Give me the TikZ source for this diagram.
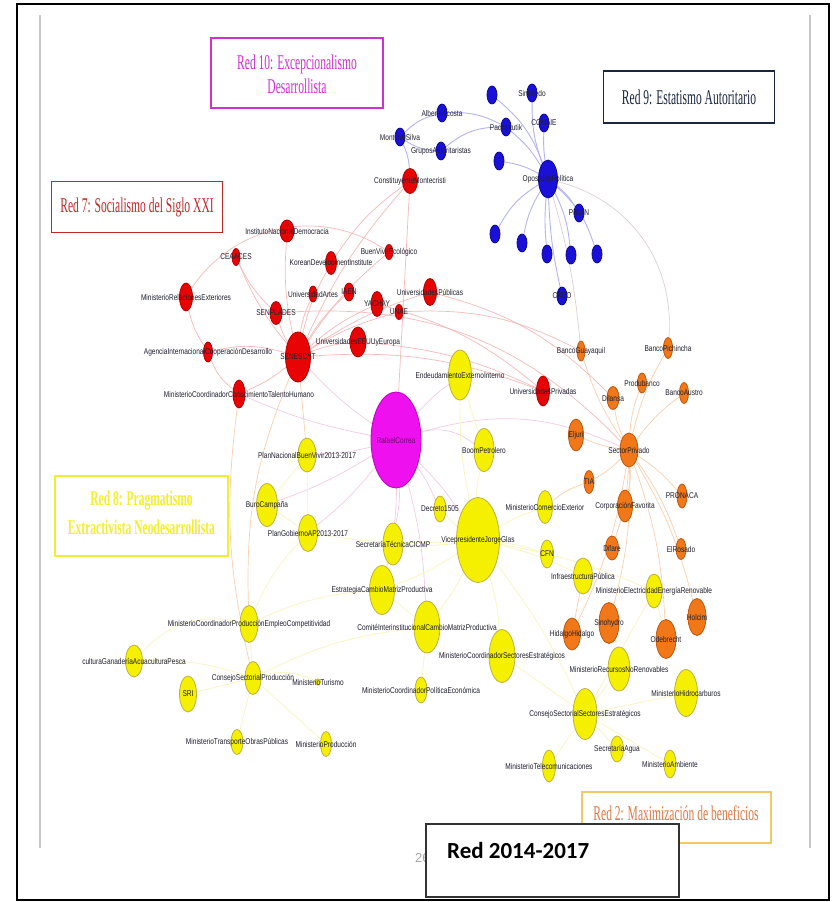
\documentclass[tikz,border=0pt]{standalone}
\usepackage{fontspec}
\setmainfont{Liberation Sans}
\newfontfamily\labfont[FakeStretch=0.78]{Liberation Sans}
\newfontfamily\titfont[FakeStretch=0.55]{Liberation Serif}
\newfontfamily\boxfont{Carlito}
\usetikzlibrary{shapes.geometric}
\pgfdeclarelayer{bg}\pgfdeclarelayer{fg}\pgfsetlayers{bg,main,fg}
\definecolor{cblue}{HTML}{1A10D8}\definecolor{cblueb}{HTML}{0A0890}
\definecolor{cred}{HTML}{E80404}\definecolor{credb}{HTML}{B00000}
\definecolor{cmag}{HTML}{EE10EE}\definecolor{cmagb}{HTML}{C000C0}
\definecolor{cyel}{HTML}{F5F000}\definecolor{cyelb}{HTML}{BDB040}
\definecolor{cora}{HTML}{F07818}\definecolor{corab}{HTML}{C05810}
\definecolor{eblue}{HTML}{B4B4F0}\definecolor{ered}{HTML}{F6BABA}
\definecolor{emag}{HTML}{F3CCE4}\definecolor{eora}{HTML}{F8D0AE}
\definecolor{eyel}{HTML}{F9F6C4}\definecolor{egry}{HTML}{DDD0D4}
\definecolor{labc}{HTML}{202030}
\definecolor{t10}{HTML}{D030D0}\definecolor{t9}{HTML}{1A2540}
\definecolor{t7}{HTML}{C02828}\definecolor{t8}{HTML}{F2EE30}
\definecolor{t2}{HTML}{E07840}\definecolor{t2b}{HTML}{F3C868}
\newcommand{\nd}[7]{%
  \node[#6, minimum width=#4pt, minimum height=#5pt] (#1) at (#2,#3) {};
  \begin{pgfonlayer}{fg}\node[lab] (#1-l) at (#2,#3) {#7};\end{pgfonlayer}}
\tikzset{
  gnode/.style={ellipse, draw, line width=0.8pt, inner sep=0pt},
  nb/.style={gnode, fill=cblue, draw=cblueb},
  nr/.style={gnode, fill=cred, draw=credb},
  nm/.style={gnode, fill=cmag, draw=cmagb},
  ny/.style={gnode, fill=cyel, draw=cyelb},
  no/.style={gnode, fill=cora, draw=corab},
  lab/.style={font=\labfont\fontsize{8.4}{9}\selectfont, text=labc, inner sep=0pt},
  eb/.style={draw=eblue, line width=0.9pt},
  er/.style={draw=ered, line width=0.7pt},
  em/.style={draw=emag, line width=0.7pt},
  eo/.style={draw=eora, line width=0.7pt},
  ey/.style={draw=eyel, line width=0.8pt},
  eg/.style={draw=egry, line width=0.7pt},
  titbox/.style={draw, line width=1.2pt, fill=white, inner sep=0pt},
  tit/.style={font=\titfont\fontsize{21}{24}\selectfont, align=center, inner sep=0pt},
}
\begin{document}
\begin{tikzpicture}[x=1pt,y=-1pt]
\useasboundingbox (0,0) rectangle (838,902);
\begin{pgfonlayer}{bg}
\fill[white] (0,0) rectangle (838,902);
% page edges
\draw[black!22, line width=1.2pt] (40,15) -- (40,848);
\draw[black!22, line width=1.2pt] (810,15) -- (810,848);
\end{pgfonlayer}

% ---------------- blue ----------------
\nd{op}{548}{179}{19}{38}{nb}{OposiciónPolítica}
\nd{aa}{442}{113}{10}{18}{nb}{AlbertoAcosta}
\nd{ms}{400}{137}{10}{18}{nb}{MontúfarSilva}
\nd{ga}{441}{151}{10}{18}{nb}{GruposAutoritaristas}
\nd{b1}{492}{95}{10}{18}{nb}{}
\nd{sin}{532}{93}{10}{18}{nb}{SinMiedo}
\nd{co}{544}{123}{10}{18}{nb}{CONAIE}
\nd{pa}{506}{127}{10}{18}{nb}{Pachakutik}
\nd{b2}{499}{161}{10}{18}{nb}{}
\nd{pr}{579}{213}{10}{18}{nb}{PRIAN}
\nd{b3}{495}{234}{10}{18}{nb}{}
\nd{b4}{522}{243}{10}{18}{nb}{}
\nd{b5}{547}{254}{10}{18}{nb}{}
\nd{b6}{571}{255}{10}{18}{nb}{}
\nd{b7}{597}{254}{10}{18}{nb}{}
\nd{cr}{562}{296}{10}{18}{nb}{CREO}

% ---------------- red ----------------
\nd{cm}{410}{181}{15}{25}{nr}{ConstituyenteMontecristi}
\nd{ind}{287}{231}{14}{22}{nr}{InstitutoNacionalDemocracia}
\nd{cea}{236}{257}{8}{17}{nr}{CEAACES}
\nd{kdi}{331}{263}{11}{23}{nr}{KoreanDevelopmentInstitute}
\nd{bl}{389}{252}{8}{15}{nr}{BuenVivirEcológico}
\nd{mre}{186}{297}{13}{28}{nr}{MinisterioRelacionesExteriores}
\nd{ua}{313}{294}{8}{16}{nr}{UniversidadArtes}
\nd{iaen}{349}{292}{10}{18}{nr}{IAEN}
\nd{ya}{377}{304}{12}{25}{nr}{YACHAY}
\nd{unae}{399}{312}{8}{15}{nr}{UNAE}
\nd{up}{430}{292}{13}{27}{nr}{UniversidadesPúblicas}
\nd{spl}{276}{313}{12}{23}{nr}{SENPLADES}
\nd{sen}{298}{357}{25}{50}{nr}{SENESCYT}
\nd{uee}{358}{342}{16}{30}{nr}{UniversidadesEEUUyEuropa}
\nd{aic}{208}{352}{9}{20}{nr}{AgenciaInternacionalCooperaciónDesarrollo}
\nd{mcc}{239}{394}{12}{28}{nr}{MinisterioCoordinadorConocimientoTalentoHumano}
\nd{upr}{543}{391}{13}{30}{nr}{UniversidadesPrivadas}

% ---------------- magenta ----------------
\node[nm, minimum width=50pt, minimum height=96pt] (rc) at (396,440) {};
\begin{pgfonlayer}{fg}\node[lab, text=cmagb!60!black] (rc-l) at (396,440) {RafaelCorrea};\end{pgfonlayer}

% ---------------- yellow ----------------
\nd{end}{460}{375}{23}{50}{ny}{EndeudamientoExternoInterno}
\nd{bp}{484}{450}{20}{43}{ny}{BoomPetrolero}
\nd{pnbv}{307}{455}{18}{34}{ny}{PlanNacionalBuenVivir2013-2017}
\nd{buro}{267}{505}{21}{43}{ny}{BuroCampaña}
\nd{pg}{308}{533}{19}{37}{ny}{PlanGobiernoAP2013-2017}
\nd{dec}{440}{509}{12}{26}{ny}{Decreto1505}
\nd{vjg}{478}{540}{43}{85}{ny}{VicepresidenteJorgeGlas}
\nd{mce}{545}{507}{15}{33}{ny}{MinisterioComercioExterior}
\nd{stc}{393}{544}{20}{42}{ny}{SecretaríaTécnicaCICMP}
\nd{cfn}{547}{554}{13}{28}{ny}{CFN}
\nd{ip}{583}{576}{19}{36}{ny}{InfraestructuraPública}
\nd{ecm}{382}{590}{25}{49}{ny}{EstrategiaCambioMatrizProductiva}
\nd{cic}{427}{627}{26}{52}{ny}{ComitéInterinstitucionalCambioMatrizProductiva}
\nd{mcse}{502}{656}{26}{53}{ny}{MinisterioCoordinadorSectoresEstratégicos}
\nd{mcpe}{421}{690}{12}{26}{ny}{MinisterioCoordinadorPolíticaEconómica}
\nd{mcpec}{249}{624}{18}{37}{ny}{MinisterioCoordinadorProducciónEmpleoCompetitividad}
\nd{agp}{134}{661}{17}{32}{ny}{culturaGanaderíaAcuaculturaPesca}
\nd{sri}{188}{694}{17}{36}{ny}{SRI}
\nd{csp}{253}{678}{16}{33}{ny}{ConsejoSectorialProducción}
\nd{mtur}{318}{682}{5}{6}{ny}{MinisterioTurismo}
\nd{mtop}{237}{742}{12}{25}{ny}{MinisterioTransporteObrasPúblicas}
\nd{mprod}{326}{744}{11}{25}{ny}{MinisterioProducción}
\nd{meer}{654}{591}{16}{34}{ny}{MinisterioElectricidadEnergíaRenovable}
\nd{mrnr}{619}{669}{22}{44}{ny}{MinisterioRecursosNoRenovables}
\nd{mh}{686}{693}{23}{47}{ny}{MinisterioHidrocarburos}
\nd{csse}{585}{714}{24}{51}{ny}{ConsejoSectorialSectoresEstratégicos}
\nd{sagua}{617}{749}{13}{26}{ny}{SecretaríaAgua}
\nd{mtel}{549}{766}{13}{32}{ny}{MinisterioTelecomunicaciones}
\nd{mamb}{670}{764}{12}{28}{ny}{MinisterioAmbiente}

% ---------------- orange ----------------
\nd{bg}{581}{351}{8}{20}{no}{BancoGuayaquil}
\nd{bpi}{668}{348}{9}{21}{no}{BancoPichincha}
\nd{prod}{642}{383}{9}{20}{no}{Produbanco}
\nd{dil}{613}{398}{12}{23}{no}{Dilansa}
\nd{ba}{684}{393}{9}{21}{no}{BancoAustro}
\nd{elj}{576}{435}{15}{32}{no}{Eljuri}
\nd{spv}{629}{450}{18}{34}{no}{SectorPrivado}
\nd{tia}{589}{482}{10}{23}{no}{TIA}
\nd{cf}{625}{506}{15}{32}{no}{CorporaciónFavorita}
\nd{pron}{682}{496}{10}{24}{no}{PRONACA}
\nd{dif}{612}{548}{13}{24}{no}{Difare}
\nd{elr}{681}{549}{10}{21}{no}{ElRosado}
\nd{sino}{609}{623}{20}{41}{no}{Sinohydro}
\nd{hol}{697}{617}{18}{37}{no}{Holcim}
\nd{hid}{572}{634}{17}{32}{no}{HidalgoHidalgo}
\nd{ode}{666}{639}{20}{39}{no}{Odebrecht}

% ---------------- edges ----------------
\begin{pgfonlayer}{bg}
% blue
\draw[eb] (op) to[bend right=15] (b1);
\draw[eb] (op) to[bend left=10] (sin);
\draw[eb] (op) to[bend left=5] (co);
\draw[eb] (op) to[bend right=10] (pa);
\draw[eb] (op) to[bend right=10] (b2);
\draw[eb] (op) to[bend left=10] (pr);
\draw[eb] (op) to[bend right=15] (b3);
\draw[eb] (op) to[bend right=10] (b4);
\draw[eb] (op) to[bend right=5] (b5);
\draw[eb] (op) to[bend left=10] (b6);
\draw[eb] (op) to[bend left=15] (b7);
\draw[eb] (op) to[bend right=5] (cr);
\draw[eb] (pa) to[bend right=15] (aa);
\draw[eb] (pa) to[bend right=20] (ga);
\draw[eb] (ms) to[bend left=15] (aa);
\draw[eb] (ms) to[bend right=15] (ga);
\draw[eb] (ms) to[bend left=10] (cm);
\draw[eg] (op) to[bend left=40] (bpi);
\draw[eg] (op) to[bend left=5] (bg);
% red
\foreach \t in {spl,ua,iaen,ya,unae,up,uee,kdi,bl,ind,cm,mcc,cea}
  \draw[er] (sen) to[bend left=8] (\t);
\draw[er] (sen) to[bend right=15] (aic);
\draw[er] (sen) to[bend left=12] (upr);
\draw[er] (mre) to[bend right=10] (aic);
\draw[er] (aic) to[bend right=15] (mcc);
\draw[er] (mre) to[bend left=45] (bl);
\draw[er] (cm) -- (rc);
\draw[er] (cm) to[bend right=10] (kdi);
\draw[er] (spl) to[bend left=25] (spv);
\draw[er] (up) to[bend left=15] (dil);
\draw[er] (unae) to[bend left=15] (bg);
\draw[er] (uee) to[bend left=10] (upr);
\draw[er] (ya) to[bend left=12] (upr);
\draw[er] (cea) to[bend right=10] (spl);
% magenta / mixed
\foreach \t in {sen,end,pnbv,buro,pg,stc,ecm,cic,vjg,dec,mcc}
  \draw[em] (rc) to[bend left=6] (\t);
\draw[em] (rc) to[bend left=25] (bp);
\draw[em] (rc) to[bend left=20] (spv);
\draw[eo] (sen) -- (pnbv);
\draw[eo] (mcc) to[bend right=10] (csp);
\draw[eo] (sen) to[bend right=12] (mcpec);
% orange
\foreach \t in {bg,bpi,prod,dil,ba,elj,tia,cf,pron,dif,elr,sino,ode,hol,hid}
  \draw[eo] (spv) to[bend left=8] (\t);
\draw[eo] (tia) to[bend right=10] (mce);
\draw[eo] (ip) -- (hid);
% yellow
\foreach \t in {dec,mce,cfn,ip,mcse,cic,ecm,stc,meer,csse,bp,end,pg}
  \draw[ey] (vjg) to[bend left=6] (\t);
\draw[ey] (mcse) -- (csse);
\draw[ey] (cic) -- (ecm);
\draw[ey] (cic) -- (mcpe);
\draw[ey] (stc) -- (ecm);
\draw[ey] (pnbv) -- (buro);
\draw[ey] (pnbv) -- (pg);
\draw[ey] (buro) -- (pg);
\draw[ey] (pg) to[bend right=10] (mcpec);
\foreach \t in {mcpec,sri,mtop,mprod}
  \draw[ey] (csp) -- (\t);
\draw[ey] (csp) to[bend left=20] (mtur);
\draw[ey] (csp) to[bend right=10] (agp);
\draw[ey] (agp) to[bend left=30] (mcpec);
\foreach \t in {mtel,sagua,mamb,mrnr,mh,meer}
  \draw[ey] (csse) -- (\t);
\draw[ey] (meer) -- (ode);
\draw[ey] (end) -- (bp);
\draw[ey] (csp) to[bend left=10] (cic);
\draw[ey] (mcpec) to[bend left=10] (ecm);
\end{pgfonlayer}

% ---------------- title boxes ----------------
\node[titbox, draw=t10, minimum width=172pt, minimum height=70pt] (r10) at (297,73) {};
\node[tit, text=t10] (r10t) at (297,74) {Red 10: Excepcionalismo\\Desarrollista};
\node[titbox, draw=t9, minimum width=171pt, minimum height=52pt] (r9) at (689,97) {};
\node[tit, text=t9] (r9t) at (689,97) {Red 9: Estatismo Autoritario};
\node[titbox, draw=t7, minimum width=171pt, minimum height=51pt] (r7) at (137,207) {};
\node[tit, text=t7] (r7t) at (137,207) {Red 7: Socialismo del Siglo XXI};
\node[titbox, draw=t8, minimum width=173pt, minimum height=80pt] (r8) at (141.5,516) {};
\node[tit, text=t8, font=\titfont\bfseries\fontsize{21}{29}\selectfont] (r8t) at (141.5,513) {Red 8: Pragmatismo\\Extractivista Neodesarrollista};
\node[titbox, draw=t2b, minimum width=189pt, minimum height=51pt] (r2) at (676.5,817.5) {};
\node[tit, text=t2] (r2t) at (676,813) {Red 2: Maximización de beneficios};

% page number and caption box
\node[text=black!35, font=\fontsize{13}{15}\selectfont, anchor=west, inner sep=0pt] (pgno) at (415,858) {26};
\node[draw=black!80, line width=1.2pt, fill=white, minimum width=253pt, minimum height=73pt, inner sep=0pt] (cap) at (552.5,860.5) {};
\node[font=\boxfont\bfseries\fontsize{23}{26}\selectfont, anchor=base west, inner sep=0pt] (capt) at (447,858) {Red 2014-2017};

% outer frame
\draw[black, line width=1.6pt] (17,4) rectangle (829,900);
\end{tikzpicture}
\end{document}
